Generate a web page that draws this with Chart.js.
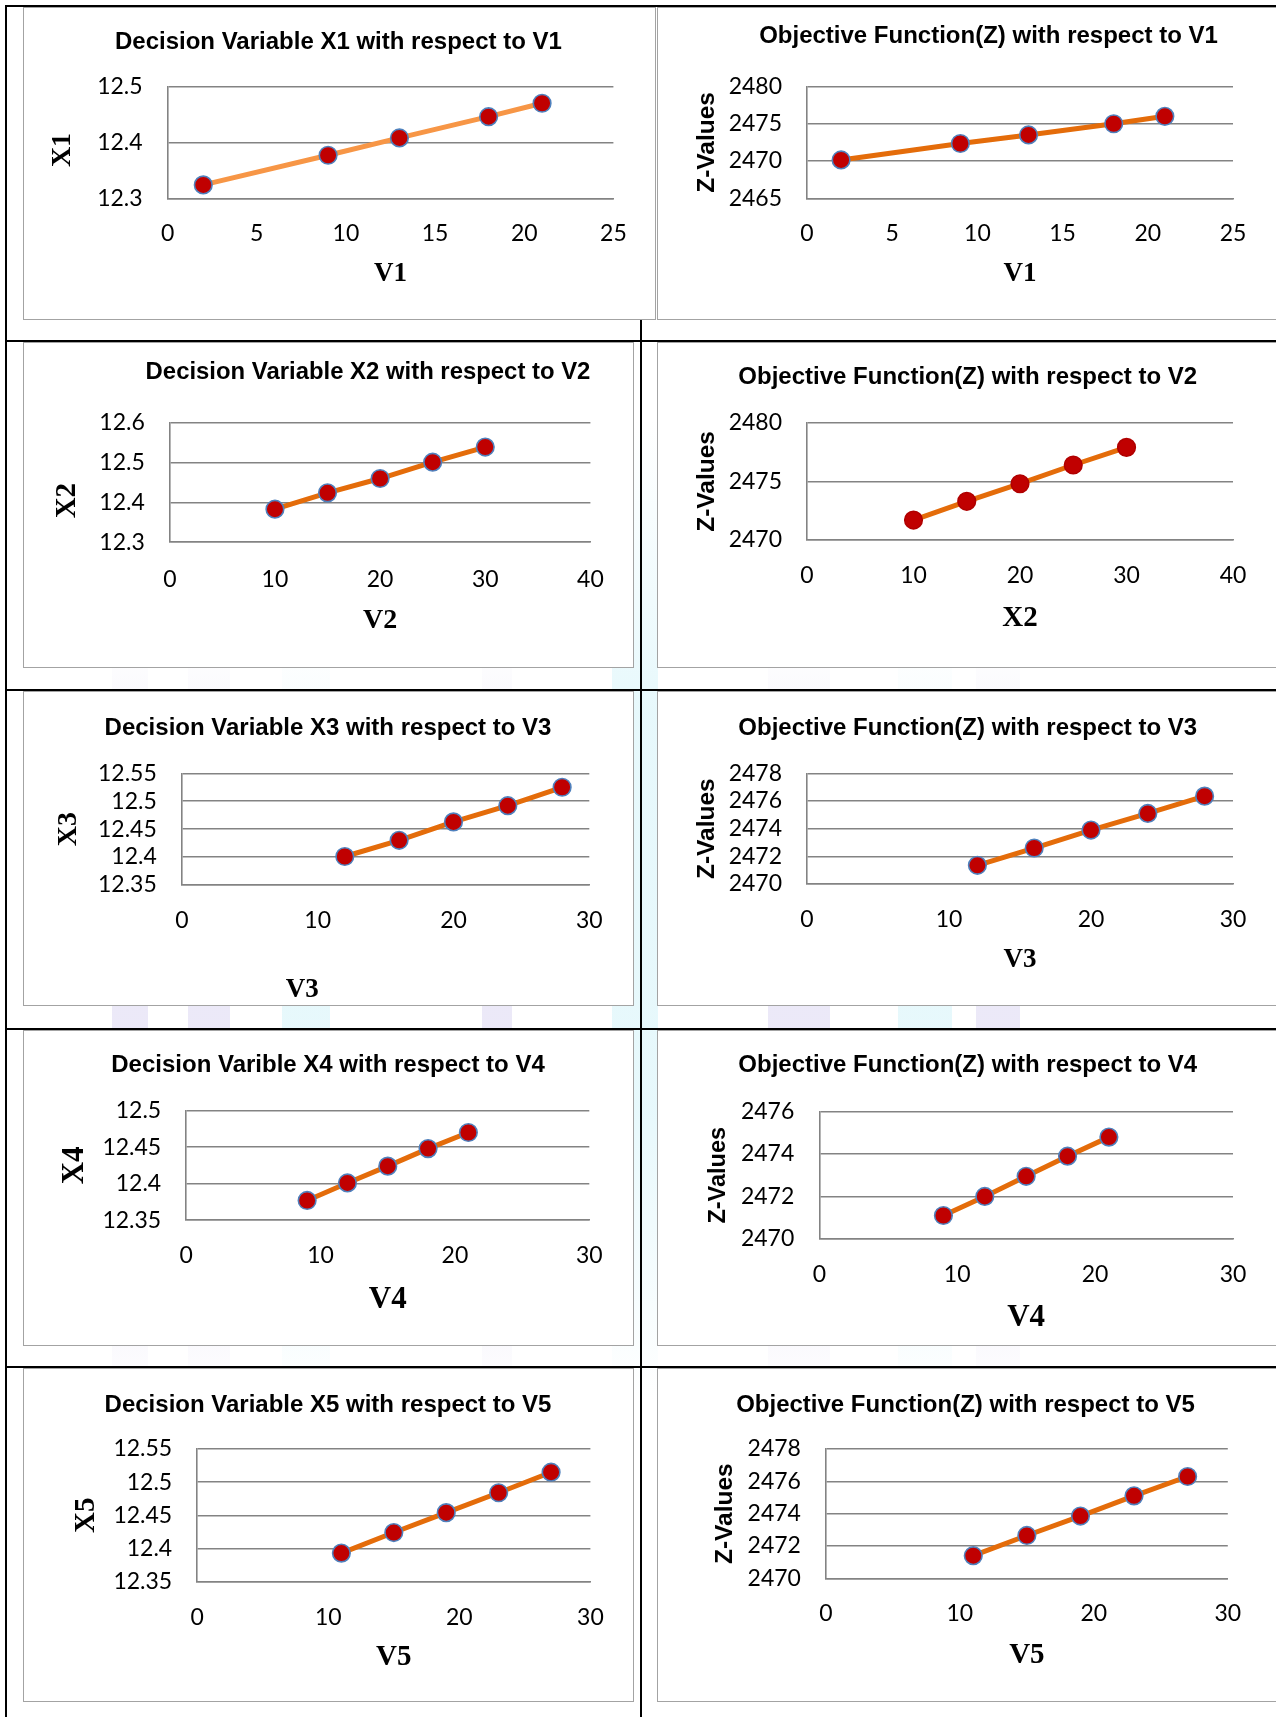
<!DOCTYPE html>
<html>
<head>
<meta charset="utf-8">
<script src="https://cdn.jsdelivr.net/npm/chart.js@4.4.1/dist/chart.umd.min.js"></script>
<style>
  html, body { margin: 0; padding: 0; background: #fff; overflow: hidden; }
  #page { position: relative; width: 1276px; height: 1717px; overflow: hidden; }
  .rule { position: absolute; background: #000; }
  .band { position: absolute; opacity: 0.55; }
  .box { position: absolute; background: #fff; outline: 1.5px solid #a3a3a3; }
  .box canvas { position: absolute; left: 0; top: 0; }
</style>
</head>
<body>
<div id="page"></div>
<script>
// values
const v1 = [2, 9, 13, 18, 21];
const x1 = [12.324, 12.377, 12.408, 12.446, 12.47];
const zV1 = [2470.15, 2472.35, 2473.5, 2475.0, 2476.0];

const v2 = [10, 15, 20, 25, 30];
const x2 = [12.383, 12.424, 12.46, 12.501, 12.539];
const zV2 = [2471.7, 2473.3, 2474.8, 2476.4, 2477.9];

const v3 = [12, 16, 20, 24, 28];
const x3 = [12.401, 12.43, 12.463, 12.492, 12.525];
const zV3 = [2471.35, 2472.6, 2473.9, 2475.1, 2476.35];

const v4 = [9, 12, 15, 18, 21];
const x4 = [12.377, 12.401, 12.424, 12.448, 12.47];
const zV4 = [2471.1, 2472.0, 2472.95, 2473.9, 2474.8];

const v5 = [11, 15, 19, 23, 27];
const x5 = [12.393, 12.424, 12.454, 12.484, 12.515];
const zV5 = [2471.4, 2472.65, 2473.85, 2475.1, 2476.3];

// tick labels
const xTicks25 = [0, 5, 10, 15, 20, 25];
const xTicks40 = [0, 10, 20, 30, 40];
const xTicks30 = [0, 10, 20, 30];
const yTicksX1 = [12.3, 12.4, 12.5];
const yTicksX2 = [12.3, 12.4, 12.5, 12.6];
const yTicksX3 = [12.35, 12.4, 12.45, 12.5, 12.55];
const yTicksX4 = [12.35, 12.4, 12.45, 12.5];
const yTicksX5 = [12.35, 12.4, 12.45, 12.5, 12.55];
const yTicksZ1 = [2465, 2470, 2475, 2480];
const yTicksZ2 = [2470, 2475, 2480];
const yTicksZ3 = [2470, 2472, 2474, 2476, 2478];
const yTicksZ4 = [2470, 2472, 2474, 2476];
const yTicksZ5 = [2470, 2472, 2474, 2476, 2478];

const titles = [
  'Decision Variable X1 with respect to V1',
  'Objective Function(Z) with respect to V1',
  'Decision Variable X2 with respect to V2',
  'Objective Function(Z) with respect to V2',
  'Decision Variable X3 with respect to V3',
  'Objective Function(Z) with respect to V3',
  'Decision Varible X4 with respect to V4',
  'Objective Function(Z) with respect to V4',
  'Decision Variable X5 with respect to V5',
  'Objective Function(Z) with respect to V5'
];

const ORANGE = '#E46C0A';
const BLUE_RING = '#4F81BD';

// layout of each panel: box, plot area and label spots (px, relative to box)
// xlX / ylY only where the label sits off the centre of its axis
const panels = [
  { box: [24, 8, 631, 311], plot: [143.6, 78.5, 589.4, 190.3], tx: 314.4, ty: 34.5,
    xs: v1, ys: x1, xt: xTicks25, yt: yTicksX1,
    xl: 'V1', xlSize: 27, xlY: 265.6, yl: 'X1', ylSize: 28, ylX: 38.4, ylY: 142, serifY: true,
    line: '#F79646', ring: BLUE_RING },
  { box: [658, 8, 625, 311], plot: [149, 78.5, 575, 190.3], tx: 330.5, ty: 28,
    xs: v1, ys: zV1, xt: xTicks25, yt: yTicksZ1,
    xl: 'V1', xlSize: 27, xlY: 265.6, yl: 'Z-Values', ylSize: 24.5, ylX: 49.6, serifY: false,
    line: ORANGE, ring: BLUE_RING },
  { box: [24, 343, 609, 324], plot: [145.8, 79.8, 566.4, 199.2], tx: 344, ty: 29.2, xtPad: 26,
    xs: v2, ys: x2, xt: xTicks40, yt: yTicksX2,
    xl: 'V2', xlSize: 28, xlY: 277.8, yl: 'X2', ylSize: 29, ylX: 44, ylY: 157.6, serifY: true,
    line: ORANGE, ring: BLUE_RING },
  { box: [658, 343, 625, 324], plot: [149, 79.8, 575, 197], tx: 309.7, ty: 34.7,
    xs: v2, ys: zV2, xt: xTicks40, yt: yTicksZ2,
    xl: 'X2', xlSize: 29, xlY: 275.6, yl: 'Z-Values', ylSize: 24.5, ylX: 49.6, serifY: false,
    line: ORANGE, ring: '#B00000' },
  { box: [24, 692, 609, 313], plot: [157.8, 81.3, 565.3, 193], tx: 304, ty: 36,
    xs: v3, ys: x3, xt: xTicks30, yt: yTicksX3,
    xl: 'V3', xlSize: 27, xlY: 298, xlX: 278.3, yl: 'X3', ylSize: 28, ylX: 45, serifY: true,
    line: ORANGE, ring: BLUE_RING },
  { box: [658, 692, 625, 313], plot: [149, 81.3, 575, 192], tx: 309.7, ty: 36,
    xs: v3, ys: zV3, xt: xTicks30, yt: yTicksZ3,
    xl: 'V3', xlSize: 27, xlY: 268.4, yl: 'Z-Values', ylSize: 24.5, ylX: 49.6, serifY: false,
    line: ORANGE, ring: BLUE_RING },
  { box: [24, 1031, 609, 314], plot: [162.2, 79.6, 565.3, 189.2], tx: 304, ty: 34.5,
    xs: v4, ys: x4, xt: xTicks30, yt: yTicksX4,
    xl: 'V4', xlSize: 31, xlY: 269, yl: 'X4', ylSize: 31, ylX: 50.5, serifY: true,
    line: ORANGE, ring: BLUE_RING },
  { box: [658, 1031, 625, 314], plot: [161.3, 80.7, 575, 207.8], tx: 309.7, ty: 34.5,
    xs: v4, ys: zV4, xt: xTicks30, yt: yTicksZ4,
    xl: 'V4', xlSize: 31, xlY: 286.5, yl: 'Z-Values', ylSize: 23.5, ylX: 60.5, serifY: false,
    line: ORANGE, ring: BLUE_RING },
  { box: [24, 1369, 609, 332], plot: [173.2, 80, 566.4, 212.6], tx: 304, ty: 36,
    xs: v5, ys: x5, xt: xTicks30, yt: yTicksX5,
    xl: 'V5', xlSize: 29, xlY: 289, yl: 'X5', ylSize: 29, ylX: 62.5, serifY: true,
    line: ORANGE, ring: BLUE_RING },
  { box: [658, 1369, 625, 332], plot: [167.9, 80, 569.8, 209.3], tx: 307.5, ty: 36,
    xs: v5, ys: zV5, xt: xTicks30, yt: yTicksZ5,
    xl: 'V5', xlSize: 29, xlY: 287, yl: 'Z-Values', ylSize: 24.5, ylX: 67, serifY: false,
    line: ORANGE, ring: BLUE_RING }
];

const page = document.getElementById('page');

function addDiv(cls, x, y, w, h, bg) {
  const d = document.createElement('div');
  d.className = cls;
  d.style.left = x + 'px';
  d.style.top = y + 'px';
  d.style.width = w + 'px';
  d.style.height = h + 'px';
  if (bg) d.style.background = bg;
  page.appendChild(d);
  return d;
}

// faint watermark behind the table
const lav = 'linear-gradient(180deg, rgba(214,208,240,0) 0%, #dcd7f2 30%, #dcd7f2 70%, rgba(214,208,240,0) 100%)';
const cya = 'linear-gradient(180deg, rgba(205,243,250,0) 0%, #d3f3f9 30%, #d3f3f9 70%, rgba(205,243,250,0) 100%)';
addDiv('band', 112, 640, 36, 760, lav);
addDiv('band', 188, 640, 42, 760, lav);
addDiv('band', 282, 640, 48, 760, cya);
addDiv('band', 482, 640, 30, 760, lav);
addDiv('band', 612, 420, 30, 980, cya);
addDiv('band', 642, 420, 16, 980, cya);
addDiv('band', 768, 640, 62, 760, lav);
addDiv('band', 898, 640, 54, 760, cya);
addDiv('band', 976, 640, 44, 760, lav);

// table rules
addDiv('rule', 5, 5, 1271, 2);
addDiv('rule', 5, 5, 2, 1712);
addDiv('rule', 640, 5, 2, 1712);
[340, 689, 1028, 1366].forEach(y => addDiv('rule', 5, y, 1271, 2));

// axis titles that do not sit on the centre of their axis
const freeLabel = {
  id: 'freeLabel',
  afterDraw(chart, args, o) {
    if (!o.items) return;
    const c = chart.ctx;
    o.items.forEach(it => {
      c.save();
      c.font = it.font;
      c.fillStyle = '#000';
      c.textAlign = 'center';
      c.textBaseline = 'middle';
      c.translate(it.x, it.y);
      if (it.rot) c.rotate(it.rot);
      c.fillText(it.text, 0, 0);
      c.restore();
    });
  }
};

const GRID = '#838383';
const TICK_FONT = { family: 'Lato', size: 23, lineHeight: 1 };

// width of the widest y tick label, so labels can be right aligned
const meas = document.createElement('canvas').getContext('2d');
meas.font = '23px Lato';
const widest = arr => Math.max(...arr.map(v => meas.measureText(String(v)).width));

panels.forEach((p, i) => {
  const [bx, by, W, H] = p.box;
  const [l, t, r, b] = p.plot;
  const box = addDiv('box', bx, by, W, H);
  const cv = document.createElement('canvas');
  cv.width = W;
  cv.height = H;
  box.appendChild(cv);

  const pr = W - r;
  const pl = 2 * p.tx - r;
  const yWidth = l - pl;
  const xHeight = H - b;
  const tPadTop = p.ty - 12;
  const tPadBottom = t - tPadTop - 24;
  const ylFamily = p.serifY ? 'Liberation Serif' : 'Liberation Sans';
  const ylFont = { family: ylFamily, weight: 'bold', size: p.ylSize, lineHeight: 1 };
  const freeX = p.xlX !== undefined;
  const freeY = p.ylY !== undefined;

  const items = [];
  if (freeX) items.push({ text: p.xl, x: p.xlX, y: p.xlY, font: 'bold ' + p.xlSize + 'px "Liberation Serif"' });
  if (freeY) items.push({ text: p.yl, x: p.ylX, y: p.ylY, rot: -Math.PI / 2,
    font: 'bold ' + p.ylSize + 'px "' + ylFamily + '"' });

  new Chart(cv, {
    type: 'scatter',
    data: {
      datasets: [{
        data: p.xs.map((v, k) => ({ x: v, y: p.ys[k] })),
        showLine: true,
        borderColor: p.line,
        borderWidth: 5,
        pointRadius: 8.8,
        pointBorderWidth: 1.6,
        pointBackgroundColor: '#C00000',
        pointBorderColor: p.ring
      }]
    },
    options: {
      responsive: false,
      animation: false,
      events: [],
      layout: { padding: { left: pl, right: pr, top: 0, bottom: 0 } },
      plugins: {
        legend: { display: false },
        tooltip: { enabled: false },
        title: {
          display: true,
          text: titles[i],
          color: '#000',
          font: { family: 'Liberation Sans', weight: 'bold', size: 24, lineHeight: 1 },
          padding: { top: tPadTop, bottom: tPadBottom }
        },
        freeLabel: { items }
      },
      scales: {
        x: {
          type: 'linear',
          min: p.xt[0],
          max: p.xt[p.xt.length - 1],
          afterBuildTicks: s => { s.ticks = p.xt.map(v => ({ value: v })); },
          afterFit: s => { s.height = xHeight; },
          grid: { display: false, drawTicks: false },
          border: { display: true, color: GRID, width: 1.6 },
          ticks: { color: '#000', font: TICK_FONT, padding: p.xtPad || 24, maxRotation: 0, callback: v => String(v) },
          title: {
            display: !freeX,
            text: p.xl,
            color: '#000',
            font: { family: 'Liberation Serif', weight: 'bold', size: p.xlSize, lineHeight: 1 },
            padding: { top: 0, bottom: H - p.xlY - p.xlSize / 2 }
          }
        },
        y: {
          type: 'linear',
          min: p.yt[0],
          max: p.yt[p.yt.length - 1],
          afterBuildTicks: s => { s.ticks = p.yt.map(v => ({ value: v })); },
          afterFit: s => { s.width = yWidth; },
          grid: { color: GRID, lineWidth: 1.6, drawTicks: false },
          border: { display: true, color: GRID, width: 1.6 },
          ticks: {
            color: '#000', font: TICK_FONT,
            mirror: true, crossAlign: 'far', padding: -25 - widest(p.yt),
            callback: v => String(v)
          },
          title: {
            display: !freeY,
            text: p.yl,
            color: '#000',
            font: ylFont,
            padding: { top: p.ylX - pl - p.ylSize / 2, bottom: 0 }
          }
        }
      }
    },
    plugins: [freeLabel]
  });
});
</script>
</body>
</html>
